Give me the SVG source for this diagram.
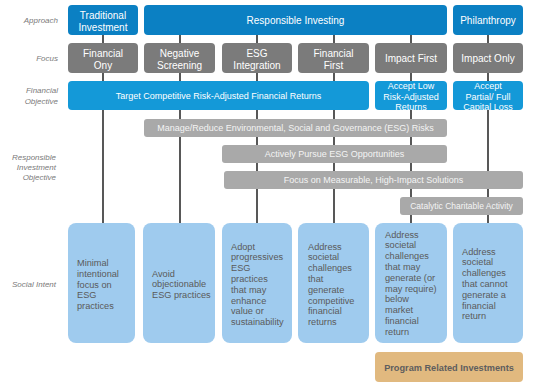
<svg xmlns="http://www.w3.org/2000/svg" width="535" height="392" viewBox="0 0 535 392">
<style>
.lab{font-family:"Liberation Sans",Arial,sans-serif;font-style:italic;font-size:8px;fill:#7a7a7a;text-anchor:end}
.t{font-family:"Liberation Sans",Arial,sans-serif;font-size:10px;fill:#fff;text-anchor:middle}
.s{font-family:"Liberation Sans",Arial,sans-serif;font-size:9px;fill:#fff;text-anchor:middle}
.g{font-family:"Liberation Sans",Arial,sans-serif;font-size:9px;fill:#f4f4f4;text-anchor:middle}
.si{font-family:"Liberation Sans",Arial,sans-serif;font-size:9.2px;fill:#5a5a5a}
.dk{fill:#0b80c3}
.fc{fill:#7b7b7b}
.fo{fill:#1499d8}
.gr{fill:#a9a9a9}
.lb{fill:#9fcbee}
.pr{fill:#e1b97f}
.ln{stroke:#2e2e2e;stroke-width:1.6;fill:none}
</style>
<rect width="535" height="392" fill="#fff"/>
<g id="connectors">
<line class="ln" x1="103" y1="30" x2="103" y2="226"/>
<line class="ln" x1="180" y1="30" x2="180" y2="226"/>
<line class="ln" x1="257" y1="30" x2="257" y2="226"/>
<line class="ln" x1="334" y1="30" x2="334" y2="226"/>
<line class="ln" x1="411" y1="30" x2="411" y2="226"/>
<line class="ln" x1="488" y1="30" x2="488" y2="226"/>
</g>
<g id="labels">
<text class="lab" x="58" y="23">Approach</text>
<text class="lab" x="58" y="61">Focus</text>
<text class="lab" x="58" y="93">Financial</text>
<text class="lab" x="58" y="104">Objective</text>
<text class="lab" x="56" y="160">Responsible</text>
<text class="lab" x="56" y="170">Investment</text>
<text class="lab" x="56" y="180">Objective</text>
<text class="lab" x="56" y="287">Social Intent</text>
</g>
<g id="traditional"><rect class="dk" x="68" y="5" width="70" height="30" rx="4"/><text class="t" x="103" y="18.5">Traditional</text><text class="t" x="103" y="30.5">Investment</text></g>
<g id="responsible"><rect class="dk" x="144" y="5" width="303" height="30" rx="4"/><text class="t" x="295.5" y="24">Responsible Investing</text></g>
<g id="philanthropy"><rect class="dk" x="453" y="5" width="70" height="30" rx="4"/><text class="t" x="488" y="24">Philanthropy</text></g>
<g id="financial-only"><rect class="fc" x="68" y="43" width="70" height="30" rx="4"/><text class="t" x="103" y="56.5">Financial</text><text class="t" x="103" y="68.5">Ony</text></g>
<g id="negative-screening"><rect class="fc" x="144" y="43" width="71" height="30" rx="4"/><text class="t" x="179.5" y="56.5">Negative</text><text class="t" x="179.5" y="68.5">Screening</text></g>
<g id="esg-integration"><rect class="fc" x="222" y="43" width="70" height="30" rx="4"/><text class="t" x="257" y="56.5">ESG</text><text class="t" x="257" y="68.5">Integration</text></g>
<g id="financial-first"><rect class="fc" x="298" y="43" width="71" height="30" rx="4"/><text class="t" x="333.5" y="56.5">Financial</text><text class="t" x="333.5" y="68.5">First</text></g>
<g id="impact-first"><rect class="fc" x="375" y="43" width="72" height="30" rx="4"/><text class="t" x="411" y="61.5">Impact First</text></g>
<g id="impact-only"><rect class="fc" x="453" y="43" width="70" height="30" rx="4"/><text class="t" x="488" y="61.5">Impact Only</text></g>
<g id="target-returns"><rect class="fo" x="68" y="81" width="301" height="29" rx="4"/><text class="s" x="218.5" y="99">Target Competitive Risk-Adjusted Financial Returns</text></g>
<g id="accept-low"><rect class="fo" x="375" y="81" width="72" height="29" rx="4"/><text class="s" x="411" y="88.5">Accept Low</text><text class="s" x="411" y="99.5">Risk-Adjusted</text><text class="s" x="411" y="110">Returns</text></g>
<g id="accept-partial"><rect class="fo" x="453" y="81" width="70" height="29" rx="4"/><text class="s" x="488" y="88.5">Accept</text><text class="s" x="488" y="99.5">Partial/ Full</text><text class="s" x="488" y="110">Capital Loss</text></g>
<g id="manage-esg"><rect class="gr" x="144" y="119" width="303" height="18" rx="3"/><text class="g" x="295.5" y="131">Manage/Reduce Environmental, Social and Governance (ESG) Risks</text></g>
<g id="pursue-esg"><rect class="gr" x="222" y="145" width="225" height="18" rx="3"/><text class="g" x="334.5" y="157">Actively Pursue ESG Opportunities</text></g>
<g id="measurable"><rect class="gr" x="224" y="171" width="299" height="18" rx="3"/><text class="g" x="373.5" y="183">Focus on Measurable, High-Impact Solutions</text></g>
<g id="catalytic"><rect class="gr" x="400" y="197" width="123" height="18" rx="3"/><text class="g" x="461.5" y="209" style="font-size:8.5px">Catalytic Charitable Activity</text></g>
<g id="si-1"><rect class="lb" x="68" y="223" width="67" height="120" rx="8"/><text class="si" x="77" y="266"><tspan x="77">Minimal</tspan><tspan x="77" dy="10.8">intentional</tspan><tspan x="77" dy="10.8">focus on</tspan><tspan x="77" dy="10.8">ESG</tspan><tspan x="77" dy="10.8">practices</tspan></text></g>
<g id="si-2"><rect class="lb" x="143" y="223" width="72" height="120" rx="8"/><text class="si" x="152" y="276.5"><tspan x="152">Avoid</tspan><tspan x="152" dy="10.8">objectionable</tspan><tspan x="152" dy="10.8">ESG practices</tspan></text></g>
<g id="si-3"><rect class="lb" x="222" y="223" width="70" height="120" rx="8"/><text class="si" x="231" y="249.5"><tspan x="231">Adopt</tspan><tspan x="231" dy="10.8">progressives</tspan><tspan x="231" dy="10.8">ESG</tspan><tspan x="231" dy="10.8">practices</tspan><tspan x="231" dy="10.8">that may</tspan><tspan x="231" dy="10.8">enhance</tspan><tspan x="231" dy="10.8">value or</tspan><tspan x="231" dy="10.8">sustainability</tspan></text></g>
<g id="si-4"><rect class="lb" x="298" y="223" width="71" height="120" rx="8"/><text class="si" x="308" y="249.5"><tspan x="308">Address</tspan><tspan x="308" dy="10.8">societal</tspan><tspan x="308" dy="10.8">challenges</tspan><tspan x="308" dy="10.8">that</tspan><tspan x="308" dy="10.8">generate</tspan><tspan x="308" dy="10.8">competitive</tspan><tspan x="308" dy="10.8">financial</tspan><tspan x="308" dy="10.8">returns</tspan></text></g>
<g id="si-5"><rect class="lb" x="375" y="223" width="72" height="120" rx="8"/><text class="si" x="385" y="237.5"><tspan x="385">Address</tspan><tspan x="385" dy="10.8">societal</tspan><tspan x="385" dy="10.8">challenges</tspan><tspan x="385" dy="10.8">that may</tspan><tspan x="385" dy="10.8">generate (or</tspan><tspan x="385" dy="10.8">may require)</tspan><tspan x="385" dy="10.8">below</tspan><tspan x="385" dy="10.8">market</tspan><tspan x="385" dy="10.8">financial</tspan><tspan x="385" dy="10.8">return</tspan></text></g>
<g id="si-6"><rect class="lb" x="453" y="223" width="70" height="120" rx="8"/><text class="si" x="462" y="254.5"><tspan x="462">Address</tspan><tspan x="462" dy="10.8">societal</tspan><tspan x="462" dy="10.8">challenges</tspan><tspan x="462" dy="10.8">that cannot</tspan><tspan x="462" dy="10.8">generate a</tspan><tspan x="462" dy="10.8">financial</tspan><tspan x="462" dy="10.8">return</tspan></text></g>
<g id="program-related"><rect class="pr" x="375" y="352" width="148" height="30" rx="4"/><text x="449" y="370.5" style="font-family:'Liberation Sans',Arial,sans-serif;font-size:9.2px;font-weight:bold;fill:#5e5e5e;text-anchor:middle">Program Related Investments</text></g>
</svg>
